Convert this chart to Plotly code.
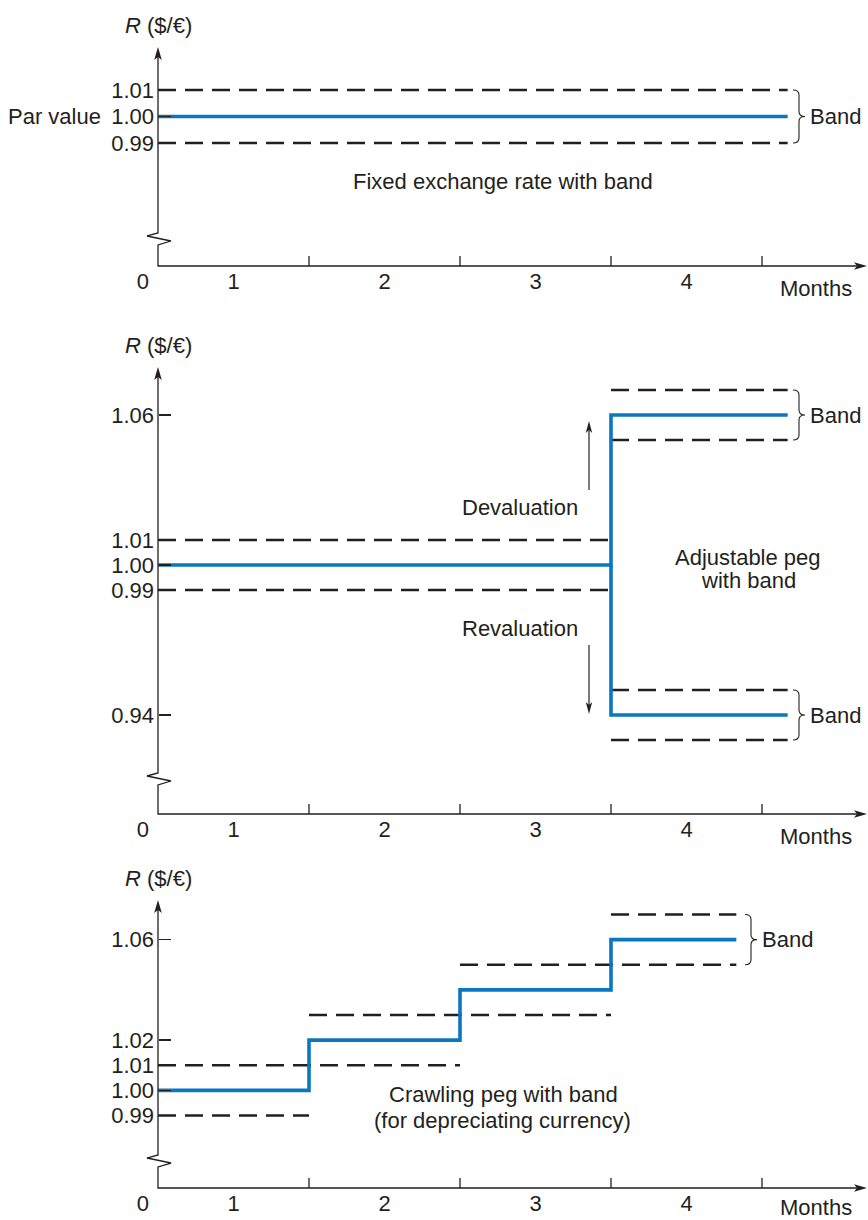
import plotly.graph_objects as go

W, H = 868, 1220
FONT = "Liberation Sans, Arial, Helvetica, sans-serif"
INK = "#231f20"
BLUE = "#0a77c0"
FS = 22

# ---------------- data ----------------
month_tick_labels = ["0", "1", "2", "3", "4"]
month_label_x = [-0.1, 0.5, 1.5, 2.5, 3.5]
month_boundaries = [1, 2, 3, 4]

# Panel 1: fixed exchange rate with band
fixed_x = [0, 4.17]
fixed_par = [1.00, 1.00]
fixed_band_upper = [1.01, 1.01]
fixed_band_lower = [0.99, 0.99]
fixed_yticks = [0.99, 1.00, 1.01]

# Panel 2: adjustable peg with band
adj_old_x = [0, 3]
adj_old_peg = [1.00, 1.00]
adj_old_upper = [1.01, 1.01]
adj_old_lower = [0.99, 0.99]
adj_new_x = [3, 4.17]
adj_deval_peg = [1.06, 1.06]
adj_reval_peg = [0.94, 0.94]
adj_band_half = 0.01
adj_yticks = [0.94, 0.99, 1.00, 1.01, 1.06]

# Panel 3: crawling peg with band
crawl_start = [0, 1, 2, 3]
crawl_end = [1, 2, 3, 3.83]
crawl_peg = [1.00, 1.02, 1.04, 1.06]
crawl_band_half = 0.01
crawl_yticks = [0.99, 1.00, 1.01, 1.02, 1.06]

# ---------------- geometry ----------------
PXM = 151.0      # pixels per month
X0 = 158.0       # pixel of month 0
XRANGE = [-X0 / PXM, (W - X0) / PXM]
PAD = 8

panels = [
    dict(top=47, bot=266, ref_v=1.00, ref_px=116.5, scale=2650.0, zig=33,
         yticks=fixed_yticks, months_dy=-22),
    dict(top=367, bot=814, ref_v=1.06, ref_px=415.0, scale=2500.0, zig=41,
         yticks=adj_yticks, months_dy=-22),
    dict(top=900, bot=1188, ref_v=1.03, ref_px=1015.0, scale=2512.0, zig=33,
         yticks=crawl_yticks, months_dy=-19),
]


def yv(p, px):
    return p["ref_v"] - (px - p["ref_px"]) / p["scale"]


def xv(px):
    return (px - X0) / PXM


def dxo(o):
    return o / PXM


fig = go.Figure()
shapes = []
annotations = []


def path_of(pts, close=False):
    s = "M" + " L".join(f"{x:.5f},{y:.5f}" for x, y in pts)
    return s + (" Z" if close else "")


def add_line(i, x, y, color, width, dash=None, shape="linear"):
    xa = "x" if i == 1 else f"x{i}"
    ya = "y" if i == 1 else f"y{i}"
    fig.add_trace(go.Scatter(x=x, y=y, mode="lines", xaxis=xa, yaxis=ya,
                             line=dict(color=color, width=width, dash=dash, shape=shape),
                             hoverinfo="skip", showlegend=False))


def brace(i, p, xpx, vtop, vbot, label_px):
    xa = "x" if i == 1 else f"x{i}"
    ya = "y" if i == 1 else f"y{i}"
    x0 = xv(xpx)
    w = dxo(12)
    h = w / 2
    r = 5 / p["scale"]
    vmid = (vtop + vbot) / 2
    d = (f"M{x0},{vtop} Q{x0+h},{vtop} {x0+h},{vtop-r} L{x0+h},{vmid+r} "
         f"Q{x0+h},{vmid} {x0+w},{vmid} Q{x0+h},{vmid} {x0+h},{vmid-r} "
         f"L{x0+h},{vbot+r} Q{x0+h},{vbot} {x0},{vbot}")
    shapes.append(dict(type="path", xref=xa, yref=ya, path=d,
                       line=dict(color=INK, width=1.1), fillcolor="rgba(0,0,0,0)"))
    annotations.append(dict(xref=xa, yref=ya, x=xv(label_px), y=vmid, text="Band",
                            showarrow=False, xanchor="left", yanchor="middle",
                            font=dict(size=FS, family=FONT, color=INK)))


def text(i, xpx, v, s, anchor="center"):
    xa = "x" if i == 1 else f"x{i}"
    ya = "y" if i == 1 else f"y{i}"
    annotations.append(dict(xref=xa, yref=ya, x=xv(xpx), y=v, text=s, showarrow=False,
                            xanchor=anchor, yanchor="middle",
                            font=dict(size=FS, family=FONT, color=INK)))


def thin_arrow(i, p, xpx, px_from, px_to):
    xa = "x" if i == 1 else f"x{i}"
    ya = "y" if i == 1 else f"y{i}"
    x = xv(xpx)
    sgn = 1 if px_to > px_from else -1
    shapes.append(dict(type="line", xref=xa, yref=ya, x0=x, x1=x,
                       y0=yv(p, px_from), y1=yv(p, px_to - sgn * 8),
                       line=dict(color=INK, width=1.2)))
    pts = [(x, yv(p, px_to)), (x - dxo(3.2), yv(p, px_to - sgn * 12)),
           (x, yv(p, px_to - sgn * 9)), (x + dxo(3.2), yv(p, px_to - sgn * 12))]
    shapes.append(dict(type="path", xref=xa, yref=ya, path=path_of(pts, True),
                       line=dict(width=0), fillcolor=INK))


layout_axes = {}
for i, p in enumerate(panels, start=1):
    xa = "x" if i == 1 else f"x{i}"
    ya = "y" if i == 1 else f"y{i}"
    xkey = "xaxis" if i == 1 else f"xaxis{i}"
    ykey = "yaxis" if i == 1 else f"yaxis{i}"
    ylo = yv(p, p["bot"] + PAD)
    yhi = yv(p, p["top"] - PAD)
    layout_axes[ykey] = dict(
        domain=[1 - (p["bot"] + PAD) / H, 1 - (p["top"] - PAD) / H],
        range=[ylo, yhi], anchor="free", position=X0 / W,
        tickvals=p["yticks"], ticktext=[f"{v:.2f}" for v in p["yticks"]],
        ticks="inside", ticklen=12, tickwidth=1.3, tickcolor=INK,
        showline=False, showgrid=False, zeroline=False, fixedrange=True,
        tickfont=dict(size=FS, family=FONT, color=INK), ticklabelstandoff=4)
    layout_axes[xkey] = dict(
        domain=[0, 1], range=XRANGE, anchor="free", position=1 - p["bot"] / H,
        tickvals=month_label_x, ticktext=month_tick_labels, ticks="",
        showline=False, showgrid=False, zeroline=False, fixedrange=True,
        tickfont=dict(size=FS, family=FONT, color=INK))

    # axes with zigzag break
    top, bot = p["top"], p["bot"]
    z = bot - p["zig"]
    pts = [(0, yv(p, top + 6)), (0, yv(p, z)), (-dxo(11), yv(p, z + 3)),
           (dxo(13), yv(p, z + 8)), (0, yv(p, z + 12)), (0, yv(p, bot)),
           (xv(858), yv(p, bot))]
    shapes.append(dict(type="path", xref=xa, yref=ya, path=path_of(pts),
                       line=dict(color=INK, width=1.3), fillcolor="rgba(0,0,0,0)"))
    up = [(0, yv(p, top)), (-dxo(3.8), yv(p, top + 13)), (0, yv(p, top + 10)),
          (dxo(3.8), yv(p, top + 13))]
    shapes.append(dict(type="path", xref=xa, yref=ya, path=path_of(up, True),
                       line=dict(width=0), fillcolor=INK))
    rt = [(xv(867), yv(p, bot)), (xv(854), yv(p, bot - 3.8)), (xv(857), yv(p, bot)),
          (xv(854), yv(p, bot + 3.8))]
    shapes.append(dict(type="path", xref=xa, yref=ya, path=path_of(rt, True),
                       line=dict(width=0), fillcolor=INK))
    for m in month_boundaries:
        shapes.append(dict(type="line", xref=xa, yref=ya, x0=m, x1=m,
                           y0=yv(p, bot), y1=yv(p, bot - 10),
                           line=dict(color=INK, width=1.3)))
    annotations.append(dict(xref=xa, yref=ya, x=0, y=yv(p, top), yshift=22,
                            text="<i>R</i> ($/€)", showarrow=False,
                            xanchor="center", yanchor="middle",
                            font=dict(size=FS, family=FONT, color=INK)))
    annotations.append(dict(xref=xa, yref=ya, x=xv(816), y=yv(p, bot), yshift=p["months_dy"],
                            text="Months", showarrow=False,
                            xanchor="center", yanchor="middle",
                            font=dict(size=FS, family=FONT, color=INK)))

DASH = "18px,9px"
DW = 2.6
BW = 3.6

# ---- panel 1
p1 = panels[0]
add_line(1, fixed_x, fixed_band_upper, INK, DW, DASH)
add_line(1, fixed_x, fixed_band_lower, INK, DW, DASH)
add_line(1, fixed_x, fixed_par, BLUE, BW)
brace(1, p1, 793, fixed_band_upper[0], fixed_band_lower[0], 808)
text(1, 103, 1.00, "Par value", "right")
text(1, 503, yv(p1, 181), "Fixed exchange rate with band")

# ---- panel 2
p2 = panels[1]
add_line(2, adj_old_x, adj_old_upper, INK, DW, DASH)
add_line(2, adj_old_x, adj_old_lower, INK, DW, DASH)
for peg in (adj_deval_peg, adj_reval_peg):
    add_line(2, adj_new_x, [v + adj_band_half for v in peg], INK, DW, DASH)
    add_line(2, adj_new_x, [v - adj_band_half for v in peg], INK, DW, DASH)
add_line(2, adj_old_x + adj_new_x, adj_old_peg + adj_deval_peg, BLUE, BW)
add_line(2, [adj_new_x[0]] + adj_new_x, [adj_old_peg[-1]] + adj_reval_peg, BLUE, BW)
brace(2, p2, 793, adj_deval_peg[0] + adj_band_half, adj_deval_peg[0] - adj_band_half, 808)
brace(2, p2, 793, adj_reval_peg[0] + adj_band_half, adj_reval_peg[0] - adj_band_half, 808)
thin_arrow(2, p2, 589, 490, 421)
thin_arrow(2, p2, 589, 645, 714)
text(2, 520, yv(p2, 507), "Devaluation")
text(2, 520, yv(p2, 628), "Revaluation")
text(2, 748, yv(p2, 557), "Adjustable peg")
text(2, 748, yv(p2, 580), "with band")

# ---- panel 3
p3 = panels[2]
levels = {}
for s, e, peg in zip(crawl_start, crawl_end, crawl_peg):
    for lv in (round(peg - crawl_band_half, 4), round(peg + crawl_band_half, 4)):
        if lv in levels:
            levels[lv] = [min(levels[lv][0], s), max(levels[lv][1], e)]
        else:
            levels[lv] = [s, e]
for lv, (s, e) in levels.items():
    add_line(3, [s, e], [lv, lv], INK, DW, DASH)
add_line(3, crawl_start + [crawl_end[-1]], crawl_peg + [crawl_peg[-1]], BLUE, BW, shape="hv")
brace(3, p3, 745, crawl_peg[-1] + crawl_band_half, crawl_peg[-1] - crawl_band_half, 760)
text(3, 503, yv(p3, 1094), "Crawling peg with band")
text(3, 502, yv(p3, 1120), "(for depreciating currency)")

fig.update_layout(
    width=W, height=H, margin=dict(l=0, r=0, t=0, b=0),
    paper_bgcolor="white", plot_bgcolor="rgba(0,0,0,0)",
    shapes=shapes, annotations=annotations, showlegend=False,
    font=dict(family=FONT, color=INK, size=FS),
    **layout_axes,
)
fig.write_html("out.html", config={"displayModeBar": False, "staticPlot": True},
               post_script="document.body.style.margin='0';document.body.style.padding='0';")
